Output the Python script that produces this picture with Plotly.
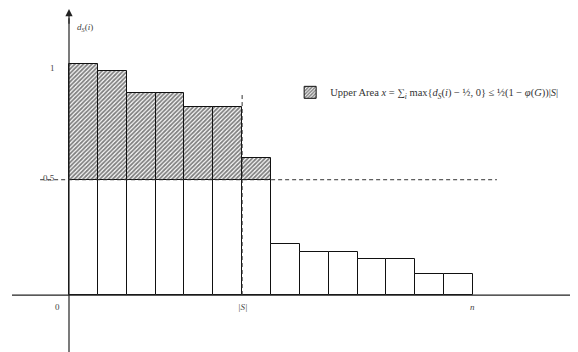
import plotly.graph_objects as go

# data
values = [1.0, 0.97, 0.875, 0.875, 0.815, 0.815, 0.595, 0.22, 0.187, 0.187, 0.157, 0.157, 0.093, 0.093]
threshold = 0.5
s_pos = 6
n_pos = 14
x_labels = ["0", "|S|", "n"]
x_label_pos = [0, s_pos, n_pos]
y_labels = ["1", "0.5"]
y_label_pos = [1.0, 0.5]

centers = [i + 0.5 for i in range(len(values))]
lower = [min(v, threshold) for v in values]
upper_x = [c for c, v in zip(centers, values) if v > threshold]
upper_h = [v - threshold for v in values if v > threshold]

FONT = "Liberation Serif"
fig = go.Figure()

# axes lines
fig.add_trace(go.Scatter(x=[-1.975, 17.7], y=[0, 0], mode="lines",
                         line=dict(color="#222", width=1.2), showlegend=False, hoverinfo="skip"))
fig.add_trace(go.Scatter(x=[0, 0], y=[-0.26, 1.2], mode="lines",
                         line=dict(color="#222", width=1.2), showlegend=False, hoverinfo="skip"))

fig.add_trace(go.Bar(x=centers, y=lower, base=0, width=1,
                     marker=dict(color="white", line=dict(color="#111", width=1)),
                     showlegend=False, hoverinfo="skip"))
fig.add_trace(go.Bar(x=upper_x, y=upper_h, base=threshold, width=1,
                     marker=dict(color="white", line=dict(color="#111", width=1),
                                 pattern=dict(shape="/", fgcolor="#000", bgcolor="white",
                                              size=3, solidity=0.6, fillmode="overlay")),
                     name="Upper Area <i>x</i> = ∑<sub><i>i</i></sub> max{<i>d<sub>S</sub></i>(<i>i</i>) − ½, 0} ≤ ½(1 − <i>φ</i>(<i>G</i>))|<i>S</i>|",
                     showlegend=True, hoverinfo="skip"))

# dashed guides
fig.add_trace(go.Scatter(x=[-1.0, 14.83], y=[threshold, threshold], mode="lines",
                         line=dict(color="#333", width=1, dash="4px,3px"), showlegend=False, hoverinfo="skip"))
fig.add_trace(go.Scatter(x=[s_pos, s_pos], y=[0, 0.875], mode="lines",
                         line=dict(color="#333", width=1, dash="4px,3px"), showlegend=False, hoverinfo="skip"))

ann = []
# arrow on y axis
ann.append(dict(x=0, y=1.24, ax=0, ay=1.17, xref="x", yref="y", axref="x", ayref="y",
                text="", showarrow=True, arrowhead=2, arrowsize=1.2, arrowwidth=1.2, arrowcolor="#222"))
for t, p in zip(x_labels, x_label_pos):
    ann.append(dict(x=p, y=-0.052, xref="x", yref="y", text=("<i>" + t + "</i>") if t != "0" else t,
                    showarrow=False, font=dict(family=FONT, size=9, color="#444"),
                    xanchor="center", yanchor="middle", xshift=(-12 if t == "0" else 0)))
for t, p in zip(y_labels, y_label_pos):
    ann.append(dict(x=0, y=p, xref="x", yref="y", text=t, showarrow=False,
                    font=dict(family=FONT, size=9, color="#444"),
                    xanchor="right", yanchor="middle", xshift=-12, yshift=-4 if t == "1" else 2))
ann.append(dict(x=0, y=1.162, xref="x", yref="y", text="<i>d<sub>S</sub></i>(<i>i</i>)", showarrow=False,
                font=dict(family=FONT, size=9, color="#444"), xanchor="left", yanchor="middle", xshift=6))
ann.append(dict(x=17.45, y=0.045, xref="x", yref="y", text="<i>i</i>", showarrow=False,
                font=dict(family=FONT, size=9, color="#444"), xanchor="center", yanchor="middle"))
fig.update_layout(annotations=ann)

fig.update_layout(
    width=570, height=344,
    margin=dict(l=0, r=0, t=0, b=0),
    plot_bgcolor="white", paper_bgcolor="white",
    barmode="overlay", bargap=0,
    xaxis=dict(range=[-2.114, 17.64], visible=False),
    yaxis=dict(range=[-0.247, 1.2446], visible=False),
    showlegend=True,
    legend=dict(x=0.495, y=0.797, xanchor="left", yanchor="top", bgcolor="rgba(0,0,0,0)",
                font=dict(family=FONT, size=10.5, color="#333"), itemwidth=30),
)

fig.write_html("out.html")
